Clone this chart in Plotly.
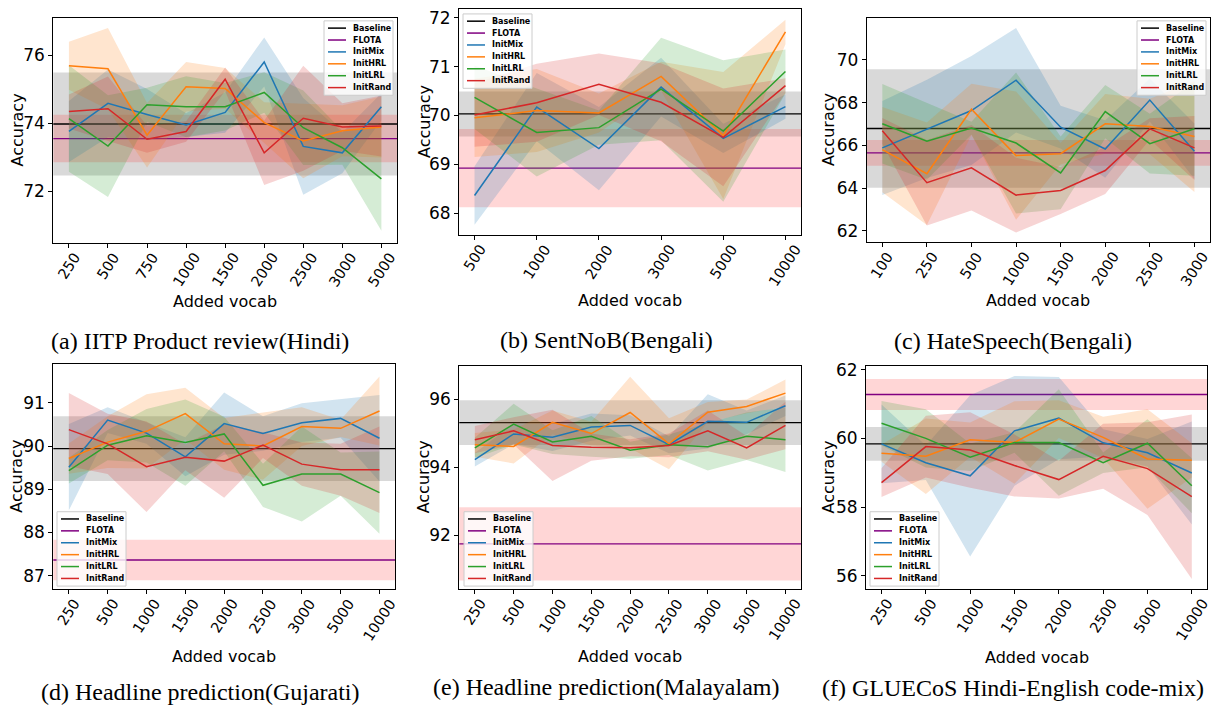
import plotly.graph_objects as go

W, H = 1219, 715

# ---------------- data ----------------
# (a) IITP Product review (Hindi)
a_vocab = ["250", "500", "750", "1000", "1500", "2000", "2500", "3000", "5000"]
a_mix = [73.76, 74.59, 74.26, 73.95, 74.32, 75.81, 73.32, 73.13, 74.49]
a_mix_sd = [0.9, 1.0, 0.75, 0.35, 0.6, 0.72, 1.43, 0.6, 0.4]
a_hrl = [75.70, 75.61, 73.65, 75.08, 75.03, 74.02, 73.48, 73.78, 73.89]
a_hrl_sd = [0.71, 1.2, 0.95, 0.73, 0.6, 0.6, 1.1, 0.75, 0.9]
a_lrl = [74.14, 73.33, 74.55, 74.49, 74.49, 74.91, 73.87, 73.28, 72.36]
a_lrl_sd = [1.57, 1.5, 0.5, 0.9, 0.7, 0.6, 1.1, 0.5, 1.53]
a_rand = [74.35, 74.43, 73.53, 73.76, 75.30, 73.13, 74.15, 73.89, 73.92]
a_rand_sd = [0.5, 0.95, 0.4, 0.3, 0.35, 0.95, 1.55, 0.7, 0.9]
a_base, a_base_sd = 73.98, 1.52
a_flota, a_flota_sd = 73.55, 0.70
a_yticks = [72, 74, 76]

# (b) SentNoB (Bengali)
b_vocab = ["500", "1000", "2000", "3000", "5000", "10000"]
b_mix = [68.36, 70.17, 69.32, 70.58, 69.53, 70.18]
b_mix_sd = [0.6, 0.7, 0.85, 0.6, 0.3, 0.25]
b_hrl = [69.95, 70.10, 70.05, 70.80, 69.59, 71.71]
b_hrl_sd = [0.8, 0.85, 0.4, 0.3, 1.3, 0.25]
b_lrl = [70.37, 69.65, 69.75, 70.54, 69.68, 70.90]
b_lrl_sd = [0.65, 0.9, 0.35, 1.05, 1.45, 0.45]
b_rand = [70.01, 70.26, 70.64, 70.27, 69.55, 70.61]
b_rand_sd = [0.65, 0.8, 0.63, 0.8, 1.0, 0.15]
b_base, b_base_sd = 70.03, 0.46
b_flota, b_flota_sd = 68.92, 0.80
b_yticks = [68, 69, 70, 71, 72]

# (c) HateSpeech (Bengali)
c_vocab = ["100", "250", "500", "1000", "1500", "2000", "2500", "3000"]
c_mix = [65.88, 66.77, 67.63, 69.05, 66.85, 65.83, 68.12, 65.72]
c_mix_sd = [2.2, 2.3, 2.55, 2.45, 1.0, 1.35, 1.0, 1.3]
c_hrl = [65.80, 64.67, 67.69, 65.52, 65.61, 67.01, 66.88, 66.42]
c_hrl_sd = [2.0, 2.4, 1.2, 3.0, 0.5, 1.4, 1.3, 2.6]
c_lrl = [67.01, 66.19, 66.81, 66.11, 64.71, 67.58, 66.08, 66.78]
c_lrl_sd = [1.86, 1.8, 0.3, 3.3, 1.7, 1.25, 1.4, 2.2]
c_rand = [66.68, 64.25, 64.95, 63.67, 63.89, 64.82, 66.77, 65.88]
c_rand_sd = [0.6, 2.0, 2.0, 1.75, 1.1, 1.1, 0.5, 1.5]
c_base, c_base_sd = 66.79, 2.77
c_flota, c_flota_sd = 65.65, 0.60
c_yticks = [62, 64, 66, 68, 70]

# (d) Headline prediction (Gujarati)
d_vocab = ["250", "500", "1000", "1500", "2000", "2500", "3000", "5000", "10000"]
d_mix = [89.51, 90.60, 90.30, 89.75, 90.52, 90.29, 90.54, 90.64, 90.18]
d_mix_sd = [1.0, 0.3, 0.25, 0.45, 0.72, 0.4, 0.45, 0.45, 1.0]
d_hrl = [89.71, 90.09, 90.34, 90.75, 90.05, 90.00, 90.45, 90.41, 90.81]
d_hrl_sd = [0.35, 0.6, 0.86, 0.6, 0.6, 0.78, 0.45, 0.2, 0.8]
d_lrl = [89.43, 90.02, 90.24, 90.08, 90.28, 89.09, 89.35, 89.35, 88.92]
d_lrl_sd = [0.3, 0.35, 0.62, 1.0, 0.4, 0.5, 1.1, 0.5, 0.95]
d_rand = [90.38, 90.05, 89.52, 89.74, 89.65, 90.02, 89.58, 89.45, 89.45]
d_rand_sd = [0.85, 0.7, 1.05, 0.3, 0.85, 0.3, 0.5, 0.6, 1.0]
d_base, d_base_sd = 89.94, 0.75
d_flota, d_flota_sd = 87.36, 0.47
d_yticks = [87, 88, 89, 90, 91]

# (e) Headline prediction (Malayalam)
e_vocab = ["250", "500", "1000", "1500", "2000", "2500", "3000", "5000", "10000"]
e_mix = [94.22, 94.98, 94.88, 95.18, 95.23, 94.66, 95.35, 95.32, 95.81]
e_mix_sd = [0.2, 0.3, 0.4, 0.4, 0.3, 0.25, 0.8, 0.35, 0.3]
e_hrl = [94.66, 94.61, 95.32, 94.99, 95.61, 94.69, 95.62, 95.79, 96.18]
e_hrl_sd = [0.35, 0.5, 0.35, 0.35, 1.05, 0.75, 0.3, 0.2, 0.4]
e_lrl = [94.57, 95.27, 94.74, 94.91, 94.50, 94.66, 94.60, 94.91, 94.81]
e_lrl_sd = [0.3, 0.6, 0.35, 0.6, 0.25, 0.3, 0.7, 0.7, 0.95]
e_rand = [94.81, 95.07, 94.64, 94.59, 94.57, 94.64, 95.07, 94.57, 95.23]
e_rand_sd = [0.4, 0.4, 1.05, 0.4, 0.25, 0.35, 0.6, 0.35, 0.7]
e_base, e_base_sd = 95.31, 0.66
e_flota, e_flota_sd = 91.74, 1.08
e_yticks = [92, 94, 96]

# (f) GLUECoS Hindi-English code-mix
f_vocab = ["250", "500", "1000", "1500", "2000", "2500", "5000", "10000"]
f_mix = [59.84, 59.29, 58.91, 60.22, 60.59, 59.87, 59.58, 58.99]
f_mix_sd = [1.15, 0.5, 2.35, 1.6, 1.2, 0.4, 0.4, 1.5]
f_hrl = [59.57, 59.48, 59.96, 59.88, 60.56, 60.03, 59.40, 59.36]
f_hrl_sd = [0.25, 1.1, 0.5, 1.2, 0.55, 0.6, 1.45, 0.5]
f_lrl = [60.44, 60.00, 59.45, 59.88, 59.88, 59.29, 59.86, 58.62]
f_lrl_sd = [0.65, 0.85, 0.4, 0.3, 1.55, 0.3, 0.7, 0.8]
f_rand = [58.71, 59.76, 59.66, 59.21, 58.80, 59.48, 59.12, 58.30]
f_rand_sd = [0.42, 0.9, 1.1, 0.9, 0.55, 0.95, 1.35, 2.4]
f_base, f_base_sd = 59.84, 0.49
f_flota, f_flota_sd = 61.28, 0.45
f_yticks = [56, 58, 60, 62]

captions = [
    "(a) IITP Product review(Hindi)",
    "(b) SentNoB(Bengali)",
    "(c) HateSpeech(Bengali)",
    "(d) Headline prediction(Gujarati)",
    "(e) Headline prediction(Malayalam)",
    "(f) GLUECoS Hindi-English code-mix)",
]
legend_names = ["Baseline", "FLOTA", "InitMix", "InitHRL", "InitLRL", "InitRand"]

# ---------------- styles ----------------
SERIES_COL = {
    "InitMix": (31, 119, 180),
    "InitHRL": (255, 127, 14),
    "InitLRL": (44, 160, 44),
    "InitRand": (214, 39, 40),
}
BASE_COL = "black"
FLOTA_COL = "#800080"

panels = [
    dict(vocab=a_vocab, s=[a_mix, a_hrl, a_lrl, a_rand], sd=[a_mix_sd, a_hrl_sd, a_lrl_sd, a_rand_sd],
         base=(a_base, a_base_sd), flota=(a_flota, a_flota_sd), yticks=a_yticks,
         box=(53.3, 12, 397, 239), yr=(70.47, 77.11), cap=(200, 338), xlab=298, ylab=17, leg=(324, 15)),
    dict(vocab=b_vocab, s=[b_mix, b_hrl, b_lrl, b_rand], sd=[b_mix_sd, b_hrl_sd, b_lrl_sd, b_rand_sd],
         base=(b_base, b_base_sd), flota=(b_flota, b_flota_sd), yticks=b_yticks,
         box=(459, 3, 801, 231), yr=(67.55, 72.18), cap=(606, 337), xlab=297, ylab=424, leg=(463, 8)),
    dict(vocab=c_vocab, s=[c_mix, c_hrl, c_lrl, c_rand], sd=[c_mix_sd, c_hrl_sd, c_lrl_sd, c_rand_sd],
         base=(c_base, c_base_sd), flota=(c_flota, c_flota_sd), yticks=c_yticks,
         box=(866.7, 12, 1210, 238.3), yr=(61.46, 71.97), cap=(1013, 338), xlab=297, ylab=828, leg=(1137, 15)),
    dict(vocab=d_vocab, s=[d_mix, d_hrl, d_lrl, d_rand], sd=[d_mix_sd, d_hrl_sd, d_lrl_sd, d_rand_sd],
         base=(d_base, d_base_sd), flota=(d_flota, d_flota_sd), yticks=d_yticks,
         box=(53.3, 361, 395, 588.3), yr=(86.68, 91.9), cap=(200, 692), xlab=656, ylab=17, leg=(57, 510)),
    dict(vocab=e_vocab, s=[e_mix, e_hrl, e_lrl, e_rand], sd=[e_mix_sd, e_hrl_sd, e_lrl_sd, e_rand_sd],
         base=(e_base, e_base_sd), flota=(e_flota, e_flota_sd), yticks=e_yticks,
         box=(459.3, 362.7, 801, 588), yr=(90.41, 96.99), cap=(606, 687), xlab=656, ylab=423, leg=(464, 510)),
    dict(vocab=f_vocab, s=[f_mix, f_hrl, f_lrl, f_rand], sd=[f_mix_sd, f_hrl_sd, f_lrl_sd, f_rand_sd],
         base=(f_base, f_base_sd), flota=(f_flota, f_flota_sd), yticks=f_yticks,
         box=(866, 362.7, 1207.3, 588.3), yr=(55.6, 62.12), cap=(1013, 688), xlab=657, ylab=829, leg=(870, 510)),
]


def px(x):
    return x / W


def py(y):
    return 1 - y / H


fig = go.Figure()
shapes = []
annotations = []
layout = {}
series_names = ["InitMix", "InitHRL", "InitLRL", "InitRand"]
SANS = "DejaVu Sans"
SERIF = "Liberation Serif, Times New Roman, serif"

for i, p in enumerate(panels):
    k = "" if i == 0 else str(i + 1)
    xa, ya = "x" + k, "y" + k
    vocab = p["vocab"]
    n = len(vocab)
    m = 0.05 * (n - 1)
    x0, y0, x1, y1 = p["box"]
    layout["xaxis" + k] = dict(
        domain=[px(x0), px(x1)], anchor=ya, type="category",
        categoryorder="array", categoryarray=vocab, range=[-m, n - 1 + m],
        showticklabels=False, ticks="outside", ticklen=4, tickwidth=1, tickcolor="black",
        showline=True, mirror=True, linecolor="black", linewidth=1,
        showgrid=False, zeroline=False, fixedrange=True,
    )
    layout["yaxis" + k] = dict(
        domain=[py(y1), py(y0)], anchor=xa, range=list(p["yr"]),
        tickmode="array", tickvals=p["yticks"], ticktext=[str(t) for t in p["yticks"]],
        ticks="outside", ticklen=4, tickwidth=1, tickcolor="black",
        tickfont=dict(family=SANS, size=17, color="black"),
        showline=True, mirror=True, linecolor="black", linewidth=1,
        showgrid=False, zeroline=False, fixedrange=True,
    )

    # horizontal bands (baseline grey, FLOTA pink)
    bm, bs = p["base"]
    fm, fs = p["flota"]
    shapes.append(dict(type="rect", xref=xa + " domain", yref=ya, x0=0, x1=1, y0=bm - bs, y1=bm + bs,
                       fillcolor="rgba(128,128,128,0.3)", line_width=0, layer="below"))
    shapes.append(dict(type="rect", xref=xa + " domain", yref=ya, x0=0, x1=1, y0=fm - fs, y1=fm + fs,
                       fillcolor="rgba(255,0,0,0.16)", line_width=0, layer="below"))
    shapes.append(dict(type="line", xref=xa + " domain", yref=ya, x0=0, x1=1, y0=bm, y1=bm,
                       line=dict(color=BASE_COL, width=1.3), layer="below"))
    shapes.append(dict(type="line", xref=xa + " domain", yref=ya, x0=0, x1=1, y0=fm, y1=fm,
                       line=dict(color=FLOTA_COL, width=1.3), layer="below"))

    # series bands
    for name, mean, sd in zip(series_names, p["s"], p["sd"]):
        r, g, b = SERIES_COL[name]
        up = [v + s for v, s in zip(mean, sd)]
        lo = [v - s for v, s in zip(mean, sd)]
        fig.add_trace(go.Scatter(
            x=vocab + vocab[::-1], y=up + lo[::-1], fill="toself",
            fillcolor=f"rgba({r},{g},{b},0.2)", line=dict(width=0), mode="lines",
            hoverinfo="skip", showlegend=False, xaxis=xa, yaxis=ya))
    # series lines
    for name, mean in zip(series_names, p["s"]):
        r, g, b = SERIES_COL[name]
        fig.add_trace(go.Scatter(
            x=vocab, y=mean, mode="lines", name=name,
            line=dict(color=f"rgb({r},{g},{b})", width=1.5),
            showlegend=False, xaxis=xa, yaxis=ya))

    # x tick labels (rotated, centred under tick); x = category index on the axis
    for j, v in enumerate(vocab):
        annotations.append(dict(x=j, y=0, xref=xa, yref=ya + " domain", text=v, showarrow=False,
                                textangle=-57, xanchor="center", yanchor="top", yshift=-4,
                                font=dict(family=SANS, size=14.5, color="black")))
    # axis titles
    annotations.append(dict(x=px((x0 + x1) / 2), y=py(p["xlab"]), xref="paper", yref="paper",
                            text="Added vocab", showarrow=False, xanchor="center", yanchor="middle",
                            font=dict(family=SANS, size=16, color="black")))
    annotations.append(dict(x=px(p["ylab"]), y=py((y0 + y1) / 2), xref="paper", yref="paper",
                            text="Accuracy", showarrow=False, textangle=-90, xanchor="center",
                            yanchor="middle", font=dict(family=SANS, size=16, color="black")))
    # caption
    cx, cy = p["cap"]
    annotations.append(dict(x=px(cx), y=py(cy), xref="paper", yref="paper", text=captions[i],
                            showarrow=False, xanchor="center", yanchor="middle",
                            font=dict(family=SERIF, size=24, color="black")))

    # legend box
    lx, ly = p["leg"]
    shapes.append(dict(type="rect", xref="paper", yref="paper", x0=px(lx), x1=px(lx + 69),
                       y0=py(ly + 75), y1=py(ly), fillcolor="rgba(255,255,255,0.8)",
                       line=dict(color="#cccccc", width=1), layer="above"))
    leg_cols = ["black", FLOTA_COL] + [f"rgb{SERIES_COL[nm]}" for nm in series_names]
    for j, (nm, col) in enumerate(zip(legend_names, leg_cols)):
        yy = ly + 7.3 + 12 * j
        shapes.append(dict(type="line", xref="paper", yref="paper", x0=px(lx + 4), x1=px(lx + 22),
                           y0=py(yy), y1=py(yy), line=dict(color=col, width=1.5), layer="above"))
        annotations.append(dict(x=px(lx + 27), y=py(yy), xref="paper", yref="paper",
                                text="<b>" + nm + "</b>", showarrow=False, xanchor="left",
                                yanchor="middle", font=dict(family=SANS, size=8, color="black")))

fig.update_layout(
    width=W, height=H, margin=dict(l=0, r=0, t=0, b=0),
    plot_bgcolor="white", paper_bgcolor="white",
    showlegend=False, shapes=shapes, annotations=annotations, **layout,
)

fig.write_html(
    "out.html",
    config={"displayModeBar": False},
    post_script="document.body.style.margin='0';document.body.style.overflow='hidden';",
)
